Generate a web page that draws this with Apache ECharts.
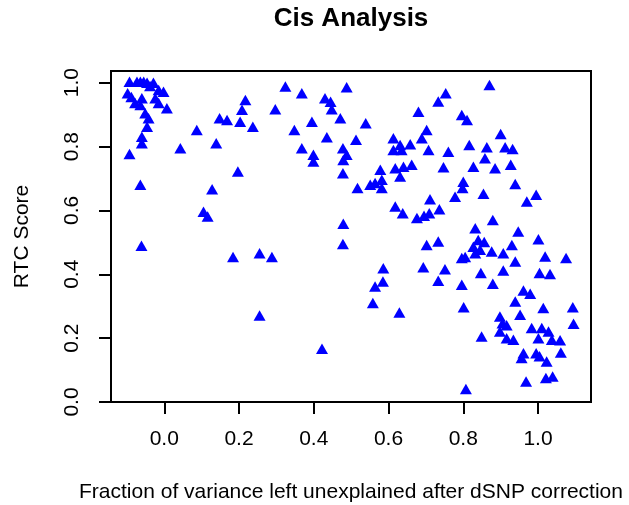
<!DOCTYPE html>
<html><head><meta charset="utf-8">
<script src="https://cdn.jsdelivr.net/npm/echarts@6/dist/echarts.min.js"></script>
<style>html,body{margin:0;padding:0;background:#fff}#c{width:629px;height:505px}</style>
</head><body><div id="c"></div>
<script>
const chartTitle = 'Cis Analysis';
const xAxisName = 'Fraction of variance left unexplained after dSNP correction';
const yAxisName = 'RTC Score';
const xTicks = [0.0, 0.2, 0.4, 0.6, 0.8, 1.0];
const yTicks = [0.0, 0.2, 0.4, 0.6, 0.8, 1.0];

const xValues = [
 -0.093,-0.073,-0.064,-0.055,-0.046,-0.029,-0.038,-0.098,-0.088,-0.060,-0.078,-0.064,-0.015,-0.002,-0.024,-0.015,0.007,-0.051,-0.042,-0.046,-0.060,-0.060,-0.093,-0.064,-0.061,
 0.087,0.043,0.139,0.148,0.168,0.203,0.237,0.217,0.208,0.297,0.324,0.197,0.128,0.105,0.116,
 0.184,0.255,0.288,0.255,
 0.368,0.488,0.430,0.445,0.448,0.471,0.395,0.348,0.435,0.539,0.513,0.368,0.399,0.399,0.478,0.488,0.479,0.478,0.517,
 0.613,0.631,0.658,0.613,0.635,0.680,0.702,0.689,0.707,0.733,0.753,0.760,0.796,0.810,0.816,0.747,0.827,
 0.578,0.618,0.640,0.662,0.631,0.551,0.564,0.582,0.582,0.618,0.638,0.676,0.695,0.709,0.711,0.736,0.778,0.800,0.798,0.479,0.832,
 0.870,0.900,0.863,0.912,0.932,0.858,0.885,0.927,0.939,0.854,0.970,0.995,0.879,0.947,
 1.001,0.840,0.856,0.827,0.845,0.832,0.876,0.907,0.930,
 0.796,0.805,0.939,1.019,1.075,0.847,0.907,1.004,1.032,
 0.796,0.879,0.961,0.979,0.939,1.014,1.093,1.095,0.801,
 0.898,0.905,0.898,0.916,0.934,0.952,0.983,1.010,1.028,1.001,1.037,1.059,
 0.961,0.956,0.995,1.004,1.023,1.061,0.968,1.021,1.039,0.807,
 0.849,0.916,
 0.478,0.586,0.585,0.564,0.558,0.629,0.422,
 0.702,0.733,0.693,0.751,0.733
];
const yValues = [
 1.003,1.003,1.003,1.003,1.000,1.000,0.990,0.967,0.955,0.951,0.936,0.930,0.977,0.972,0.951,0.936,0.920,0.904,0.889,0.862,0.831,0.810,0.777,0.680,0.489,
 0.852,0.795,0.810,0.889,0.883,0.878,0.862,0.946,0.915,0.917,0.988,0.722,0.666,0.596,0.581,
 0.454,0.466,0.454,0.271,
 0.967,0.986,0.951,0.940,0.917,0.889,0.878,0.852,0.829,0.873,0.821,0.795,0.774,0.753,0.795,0.774,0.758,0.716,0.670,
 0.826,0.805,0.807,0.789,0.789,0.909,0.852,0.826,0.789,0.941,0.967,0.784,0.899,0.883,0.805,0.735,0.737,
 0.727,0.732,0.737,0.743,0.706,0.680,0.686,0.696,0.670,0.612,0.591,0.576,0.583,0.591,0.635,0.604,0.643,0.690,0.670,0.558,0.544,
 0.993,0.839,0.798,0.798,0.792,0.763,0.732,0.743,0.683,0.652,0.628,0.649,0.570,0.534,
 0.510,0.507,0.501,0.486,0.477,0.466,0.471,0.466,0.492,
 0.451,0.454,0.440,0.456,0.451,0.404,0.412,0.404,0.401,
 0.367,0.370,0.349,0.339,0.315,0.294,0.297,0.245,0.297,
 0.268,0.247,0.221,0.200,0.195,0.273,0.232,0.232,0.221,0.200,0.195,0.193,
 0.153,0.138,0.153,0.143,0.127,0.155,0.064,0.075,0.080,0.041,
 0.205,0.240,
 0.495,0.419,0.377,0.362,0.310,0.280,0.167,
 0.492,0.503,0.422,0.416,0.380
];

const points = xValues.map((x, i) => [x, yValues[i]]);
const font = '"Liberation Sans", Arial, sans-serif';
const chart = echarts.init(document.getElementById('c'), null, {renderer: 'canvas'});
const gridL = 111, gridR = 38, gridT = 71, gridB = 103;
const plotCenterX = gridL + (629 - gridL - gridR) / 2;
const plotCenterY = gridT + (505 - gridT - gridB) / 2;

chart.setOption({
  animation: false,
  backgroundColor: '#ffffff',
  grid: {left: gridL, right: gridR, top: gridT, bottom: gridB, show: true, borderColor: '#000', borderWidth: 2, containLabel: false},
  xAxis: {
    type: 'value', min: -0.1425, max: 1.1417,
    axisLine: {show: false, onZero: false},
    splitLine: {show: false},
    axisTick: {show: true, customValues: xTicks, length: 12, lineStyle: {color: '#000', width: 2}},
    axisLabel: {customValues: xTicks, formatter: v => v.toFixed(1), color: '#000', fontFamily: font, fontSize: 21, margin: 27}
  },
  yAxis: {
    type: 'value', min: 0.0, max: 1.0366,
    axisLine: {show: false, onZero: false},
    splitLine: {show: false},
    axisTick: {show: true, customValues: yTicks, length: 12, lineStyle: {color: '#000', width: 2}},
    axisLabel: {customValues: yTicks, formatter: v => v.toFixed(1), rotate: 90, color: '#000', fontFamily: font, fontSize: 21, margin: 28}
  },
  graphic: [
    {type: 'text', style: {text: chartTitle, x: plotCenterX, y: 19, align: 'center', verticalAlign: 'middle', font: 'bold 26px ' + font, fill: '#000'}},
    {type: 'text', style: {text: xAxisName, x: plotCenterX, y: 492, align: 'center', verticalAlign: 'middle', font: '21px ' + font, fill: '#000'}},
    {type: 'text', rotation: Math.PI / 2, x: 22, y: plotCenterY, style: {text: yAxisName, x: 0, y: 0, align: 'center', verticalAlign: 'middle', font: '21px ' + font, fill: '#000'}}
  ],
  series: [{
    type: 'scatter', data: points, symbol: 'triangle', symbolSize: [12, 10.5],
    itemStyle: {color: '#0000ff', opacity: 1}
  }]
});
</script></body></html>
